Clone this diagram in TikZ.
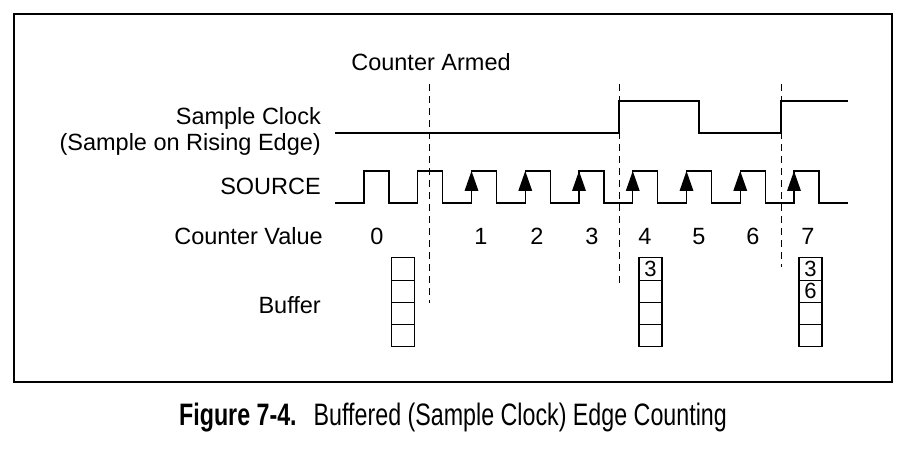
\documentclass[tikz,border=0pt]{standalone}
\usepackage{fontspec}
\setmainfont{Liberation Sans}
\newfontfamily\capfont[FakeStretch=0.75]{Liberation Sans}
\usetikzlibrary{calc}
\tikzset{
  sig/.style={draw=black, line width=1.3pt, line join=miter},
  edgetip/.style={fill=black},
  guide/.style={draw=black, line width=1pt, dash pattern=on 7pt off 5pt},
  lab/.style={font=\fontsize{23.5}{26}\selectfont, inner sep=0pt},
  cell/.style={draw=black, line width=1.2pt, minimum width=23pt, minimum height=22.25pt, inner sep=0pt, font=\fontsize{22}{24}\selectfont},
}

\begin{document}
\begin{tikzpicture}[x=1pt, y=-1pt]
  \useasboundingbox (0,0) rectangle (908,449);
  \draw[line width=1.5pt] (14,14) rectangle (892,382);

  % row labels
  \node[lab, anchor=base] (armed) at (431,71) {Counter Armed};
  \node[lab, anchor=base east] (sclk) at (321,125) {Sample Clock};
  \node[lab, anchor=base east] (sclk2) at (321,151) {(Sample on Rising Edge)};
  \node[lab, anchor=base east] (src) at (321,195) {SOURCE};
  \node[lab, anchor=base east] (cval) at (323,245) {Counter Value};
  \node[lab, anchor=base east] (buf) at (321,313) {Buffer};

  % guide lines
  \draw[guide] (429,84) -- (429,303);
  \draw[guide] (619,84) -- (619,283);
  \draw[guide] (781,84) -- (781,267);

  % sample clock
  \draw[sig] (335,133) -- (619,133) -- (619,101) -- (699,101) -- (699,133)
    -- (781,133) -- (781,101) -- (848,101);

  % source
  \draw[sig] (335,203) \foreach \k in {0,...,8} {
      -- ({364+53.75*\k},203) -- ({364+53.75*\k},171)
      -- ({389+53.75*\k},171) -- ({389+53.75*\k},203) } -- (848,203);
  \foreach \k in {2,...,8}
    \fill[edgetip] ({364+53.75*\k},171) -- ++(-7,20) -- ++(14,0) -- cycle;

  % counter values
  \foreach \v/\x in {0/377,1/481,2/537,3/592,4/645,5/699,6/753,7/808}
    \node[lab, anchor=base] (cv\v) at (\x,245) {\v};

  % buffers
  \foreach \c/\x in {a/403,b/650.5,c/810.5}
    \foreach \i in {0,...,3}
      \node[cell] (buf\c\i) at (\x,{269+22.25*\i}) {};
  \node[cell, draw=none] at (bufb0) {3};
  \node[cell, draw=none] at (bufc0) {3};
  \node[cell, draw=none] at (bufc1) {6};

  % caption
  \node[inner sep=0pt] (cap) at (453,418) {\capfont\fontsize{31}{34}\selectfont
    \textbf{Figure 7-4.}\hspace{17pt}Buffered (Sample Clock) Edge Counting};
\end{tikzpicture}
\end{document}
